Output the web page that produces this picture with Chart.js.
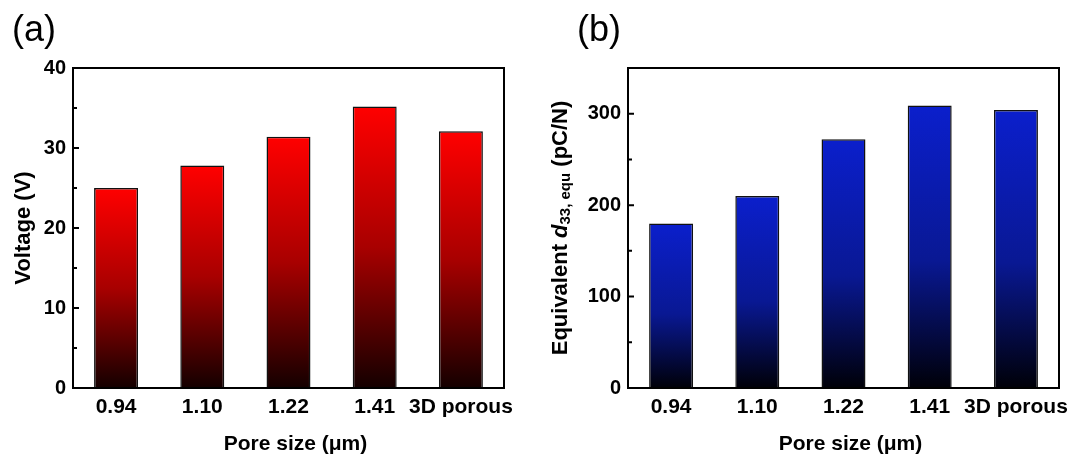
<!DOCTYPE html>
<html>
<head>
<meta charset="utf-8">
<script src="https://cdn.jsdelivr.net/npm/chart.js@4.4.0/dist/chart.umd.min.js"></script>
<style>
    html, body { margin: 0; padding: 0; background: #fff; }
    #wrap { position: relative; width: 1091px; height: 463px; }
    .box { position: absolute; top: 0; height: 463px; }
    #boxA { left: 0; width: 545px; }
    #boxB { left: 545px; width: 546px; }
</style>
</head>
<body>
<div id="wrap">
    <div class="box" id="boxA"><canvas id="chartA"></canvas></div>
    <div class="box" id="boxB"><canvas id="chartB"></canvas></div>
</div>
<script>
// values
const poreSizes = ['0.94', '1.10', '1.22', '1.41', '3D porous'];
const voltage = [25.0, 27.8, 31.4, 35.2, 32.1];
const d33 = [180, 210, 272, 309, 304];
const voltageTicks = [0, 10, 20, 30, 40];
const voltageMinor = [5, 15, 25, 35];
const d33Ticks = [0, 100, 200, 300];
const d33Minor = [50, 150, 250];

const FONT = '"Liberation Sans", Arial, sans-serif';
Chart.defaults.font.family = FONT;
Chart.defaults.color = '#000';

const redStops = [[0, '#ff0000'], [0.5, '#a80000'], [1, '#140000']];
const blueStops = [[0, '#0b1fcc'], [0.55, '#091893'], [1, '#000008']];

// vertical gradient for each bar, from its top down to the zero line
function barGradient(stops) {
    return (c) => {
        const chart = c.chart;
        if (!chart.chartArea || c.type !== 'data') return stops[0][1];
        const y = chart.scales.y;
        const top = y.getPixelForValue(c.raw);
        const bottom = y.getPixelForValue(0);
        const g = chart.ctx.createLinearGradient(0, top, 0, bottom);
        stops.forEach(([o, col]) => g.addColorStop(o, col));
        return g;
    };
}

// box frame, inward ticks, panel letter, x title
const framePlugin = {
    id: 'frame',
    afterDatasetsDraw(chart, args, opts) {
        const { ctx, chartArea: a } = chart;
        const y = chart.scales.y;
        ctx.save();
        ctx.strokeStyle = '#000';
        ctx.lineWidth = 2;
        ctx.strokeRect(a.left, a.top, a.right - a.left, a.bottom - a.top);
        ctx.beginPath();
        opts.major.forEach(v => {
            const py = y.getPixelForValue(v);
            ctx.moveTo(a.left, py);
            ctx.lineTo(a.left + 6, py);
        });
        opts.minor.forEach(v => {
            const py = y.getPixelForValue(v);
            ctx.moveTo(a.left, py);
            ctx.lineTo(a.left + 4, py);
        });
        ctx.stroke();

        ctx.fillStyle = '#000';
        ctx.font = '36px ' + FONT;
        ctx.textBaseline = 'alphabetic';
        ctx.textAlign = 'left';
        ctx.fillText(opts.label, opts.labelX, 41);

        // x axis title sits a little right of the plot centre in the original
        ctx.font = 'bold 21px ' + FONT;
        ctx.textAlign = 'center';
        ctx.textBaseline = 'middle';
        ctx.fillText('Pore size (μm)', (a.left + a.right) / 2 + 7, 444);

        if (opts.yTitle) opts.yTitle(ctx, a);
        ctx.restore();
    }
};

// y title of panel (b): italic d with subscript
function drawD33Title(ctx, a) {
    const big = 'bold 22px ' + FONT;
    const ital = 'italic bold 22px ' + FONT;
    const small = 'bold 15px ' + FONT;
    const parts = [
        { t: 'Equivalent ', f: big, dy: 0 },
        { t: 'd', f: ital, dy: 0 },
        { t: '33, equ', f: small, dy: 5 },
        { t: ' (pC/N)', f: big, dy: 0 }
    ];
    let total = 0;
    parts.forEach(p => { ctx.font = p.f; p.w = ctx.measureText(p.t).width; total += p.w; });
    ctx.translate(16, (a.top + a.bottom) / 2);
    ctx.rotate(-Math.PI / 2);
    ctx.textBaseline = 'middle';
    ctx.textAlign = 'left';
    let x = -total / 2;
    parts.forEach(p => {
        ctx.font = p.f;
        ctx.fillText(p.t, x, p.dy);
        x += p.w;
    });
}

function makeChart(id, values, stops, yMax, majors, minors, opts) {
    return new Chart(document.getElementById(id), {
        type: 'bar',
        data: {
            labels: poreSizes,
            datasets: [{
                data: values,
                backgroundColor: barGradient(stops),
                borderColor: '#111',
                borderWidth: 1.5,
                barPercentage: 0.51,
                categoryPercentage: 1
            }]
        },
        options: {
            responsive: true,
            maintainAspectRatio: false,
            animation: false,
            layout: { padding: { left: 0, top: 68, right: opts.padRight, bottom: 0 } },
            plugins: {
                legend: { display: false },
                tooltip: { enabled: false },
                frame: { major: majors, minor: minors, label: opts.label, labelX: opts.labelX, yTitle: opts.yTitle }
            },
            scales: {
                x: {
                    grid: { display: false, drawTicks: false },
                    border: { display: false },
                    ticks: { font: { size: 21, weight: 'bold' }, padding: 7, maxRotation: 0, autoSkip: false },
                    afterFit: (s) => { s.height = 75; }
                },
                y: {
                    min: 0,
                    max: yMax,
                    grid: { display: false, drawTicks: false },
                    border: { display: false },
                    ticks: { font: { size: 20, weight: 'bold' }, padding: 7 },
                    afterBuildTicks: (s) => { s.ticks = majors.map(v => ({ value: v })); },
                    title: {
                        display: !!opts.yText,
                        text: opts.yText || '',
                        font: { size: 22, weight: 'bold' },
                        padding: { top: 11, bottom: 0 }
                    },
                    afterFit: (s) => { s.width = opts.yWidth; }
                }
            }
        },
        plugins: [framePlugin]
    });
}

makeChart('chartA', voltage, redStops, 40, voltageTicks, voltageMinor, {
    padRight: 41, yWidth: 73, label: '(a)', labelX: 12, yText: 'Voltage (V)'
});

makeChart('chartB', d33, blueStops, 350, d33Ticks, d33Minor, {
    padRight: 32, yWidth: 83, label: '(b)', labelX: 32, yTitle: drawD33Title
});
</script>
</body>
</html>
